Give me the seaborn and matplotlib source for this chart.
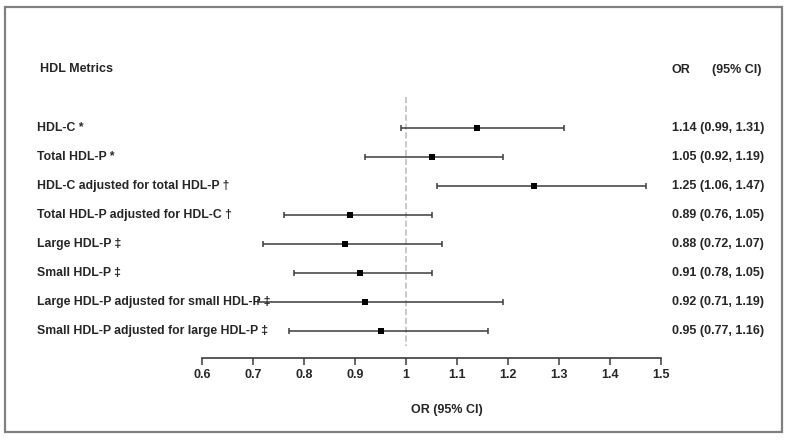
import numpy as np
import pandas as pd
import matplotlib
matplotlib.use('Agg')
import matplotlib.pyplot as plt
import matplotlib.transforms as mtransforms
from matplotlib.patches import Rectangle
import seaborn as sns

# data
metrics = ['HDL-C *',
           'Total HDL-P *',
           'HDL-C adjusted for total HDL-P \u2020',
           'Total HDL-P adjusted for HDL-C \u2020',
           'Large HDL-P \u2021',
           'Small HDL-P \u2021',
           'Large HDL-P adjusted for small HDL-P \u2021',
           'Small HDL-P adjusted for large HDL-P \u2021']
odds_ratio = [1.14, 1.05, 1.25, 0.89, 0.88, 0.91, 0.92, 0.95]
ci_low = [0.99, 0.92, 1.06, 0.76, 0.72, 0.78, 0.71, 0.77]
ci_high = [1.31, 1.19, 1.47, 1.05, 1.07, 1.05, 1.19, 1.16]
x_ticks = [0.6, 0.7, 0.8, 0.9, 1, 1.1, 1.2, 1.3, 1.4, 1.5]
x_ticklabels = ['0.6', '0.7', '0.8', '0.9', '1', '1.1', '1.2', '1.3', '1.4', '1.5']

df = pd.DataFrame({'metric': metrics, 'OR': odds_ratio, 'lo': ci_low, 'hi': ci_high})
df['row'] = np.arange(len(df))

sns.set_theme(style='white')
plt.rcParams['font.family'] = ['Liberation Sans', 'DejaVu Sans']
plt.rcParams['font.weight'] = 'bold'

W, H = 789, 440
fig = plt.figure(figsize=(W / 100, H / 100), dpi=100)
ax = fig.add_axes([202 / W, (H - 358) / H, 459 / W, 261 / H])

# dashed reference line at OR = 1
ax.vlines(1, -1.07, 7.5, colors='#c0c0c0', linestyles='--', linewidth=1.2, zorder=1)

# confidence intervals
ax.errorbar(df['OR'], df['row'], xerr=[df['OR'] - df['lo'], df['hi'] - df['OR']],
            fmt='none', ecolor='#3c3c3c', elinewidth=1.1, capsize=2.2, capthick=1.1, zorder=2)

# point estimates
sns.scatterplot(data=df, x='OR', y='row', marker='s', s=16, color='black',
                edgecolor='black', linewidth=0, ax=ax, zorder=3)

ax.set_xlim(0.6, 1.5)
ax.set_ylim(7.93, -1.07)
ax.set_xticks(x_ticks)
ax.set_xticklabels(x_ticklabels, fontsize=9, fontweight='bold')
ax.set_yticks([])
ax.set_ylabel('')
ax.set_xlabel('OR (95% CI)', fontsize=9, fontweight='bold')
ax.xaxis.set_label_coords((447 - 202) / 459, -0.175)
for side in ['top', 'right', 'left']:
    ax.spines[side].set_visible(False)
ax.spines['bottom'].set_color('#3c3c3c')
ax.spines['bottom'].set_linewidth(1.2)
ax.tick_params(axis='x', bottom=True, length=5, width=1.1, color='#3c3c3c', pad=3)

# row labels and OR text
trans = mtransforms.blended_transform_factory(fig.transFigure, ax.transData)
for _, r in df.iterrows():
    ax.text(37 / W, r['row'], r['metric'], transform=trans, fontsize=8.8,
            fontweight='bold', va='center', ha='left', clip_on=False)
    ax.text(672 / W, r['row'], f"{r['OR']:.2f} ({r['lo']:.2f}, {r['hi']:.2f})",
            transform=trans, fontsize=9, fontweight='bold', va='center', ha='left', clip_on=False)

# headers
fig.text(40 / W, 1 - 69 / H, 'HDL Metrics', fontsize=9, fontweight='bold', va='center')
fig.text(672 / W, 1 - 70 / H, 'OR', fontsize=9, fontweight='bold', va='center')
fig.text(712 / W, 1 - 70 / H, '(95% CI)', fontsize=9, fontweight='bold', va='center')

# grey frame around the whole figure
fig.patches.append(Rectangle((5 / W, 1 - 432 / H), 777 / W, 425 / H, transform=fig.transFigure,
                             fill=False, edgecolor='#808080', linewidth=1.6))

fig.savefig('out.png', dpi=100)
